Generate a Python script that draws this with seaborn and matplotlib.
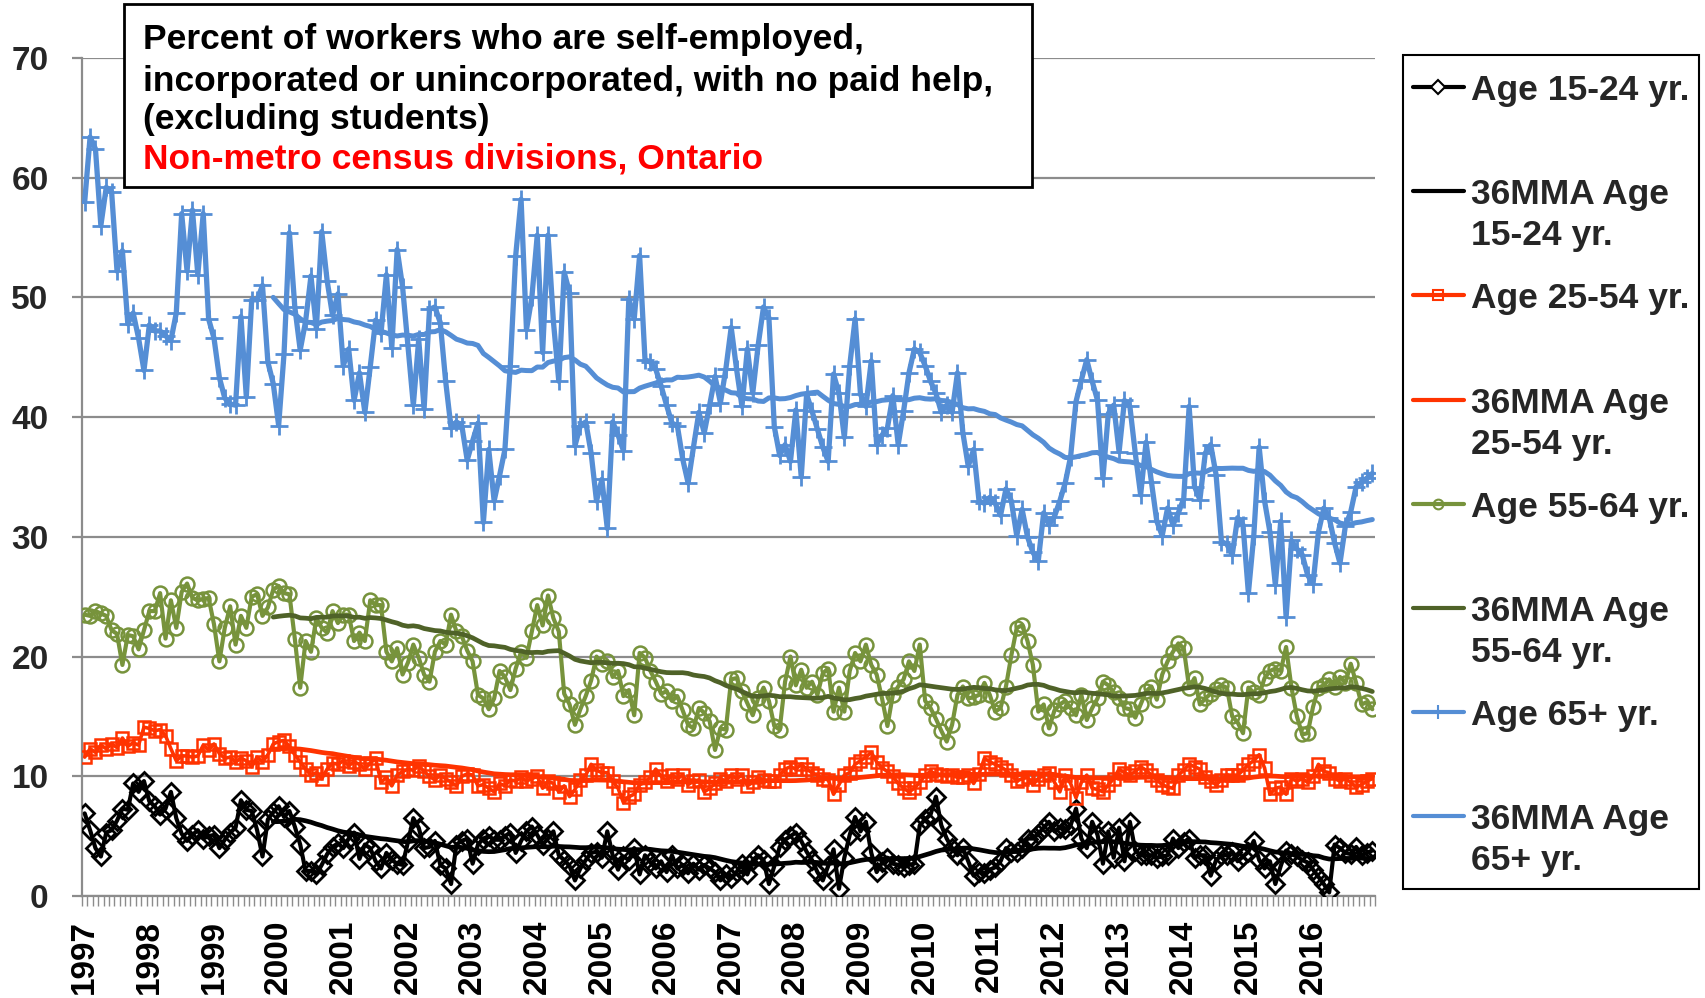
import numpy as np
import pandas as pd
import matplotlib
matplotlib.use("Agg")
import matplotlib.pyplot as plt
import seaborn as sns
from matplotlib.lines import Line2D
from matplotlib.patches import Rectangle

# ---------------- data (monthly, Jan 1997 - Dec 2016) ----------------
years = list(range(1997, 2017))
year_labels = [str(y) for y in years]

age_15_24 = [
    6.9, 5.5, 4.0, 3.3, 5.3, 5.5, 6.3, 7.3, 7.2, 9.4,
    8.7, 9.6, 7.9, 7.5, 6.8, 7.3, 8.7, 6.5, 5.2, 4.6,
    5.1, 5.5, 4.8, 5.0, 5.1, 4.0, 4.7, 5.3, 5.7, 8.0,
    7.2, 7.1, 5.5, 3.3, 6.4, 7.0, 7.5, 6.6, 7.1, 5.8,
    4.3, 2.1, 2.1, 1.8, 2.6, 3.5, 4.1, 4.4, 4.0, 4.8,
    5.3, 3.1, 4.3, 4.0, 2.9, 2.3, 3.6, 3.0, 2.7, 2.6,
    4.5, 6.5, 5.7, 4.0, 4.1, 4.6, 2.6, 2.3, 1.0, 4.3,
    4.6, 4.8, 2.7, 4.3, 4.8, 5.0, 4.7, 4.7, 5.0, 5.3,
    3.6, 4.6, 5.4, 5.8, 5.1, 4.3, 4.8, 5.4, 3.4, 3.0,
    2.5, 1.3, 2.3, 3.0, 3.6, 3.7, 3.2, 5.4, 3.4, 2.2,
    3.3, 3.0, 4.0, 1.8, 3.4, 2.8, 2.3, 2.9, 2.0, 3.4,
    2.3, 2.6, 1.9, 2.7, 2.2, 2.6, 2.3, 2.0, 1.3, 1.8,
    1.5, 2.0, 2.7, 1.8, 3.0, 3.4, 3.0, 1.0, 2.5, 4.1,
    4.7, 5.0, 5.3, 4.6, 3.7, 3.0, 2.0, 1.3, 2.5, 3.9,
    0.6, 3.2, 5.1, 6.6, 5.4, 6.2, 3.6, 2.0, 2.8, 3.2,
    2.7, 2.6, 2.4, 2.6, 2.7, 5.9, 6.4, 6.8, 8.3, 5.9,
    4.8, 4.0, 3.4, 4.0, 2.9, 1.7, 2.0, 1.9, 2.2, 2.4,
    2.9, 4.0, 3.7, 3.7, 4.0, 4.8, 4.8, 5.2, 5.7, 6.2,
    5.4, 5.7, 5.6, 5.9, 7.3, 4.8, 4.0, 6.2, 5.1, 2.7,
    5.4, 3.2, 5.7, 2.9, 6.2, 3.8, 3.4, 3.4, 3.4, 3.2,
    3.3, 3.4, 4.8, 4.0, 4.5, 4.8, 3.2, 3.4, 3.4, 1.7,
    3.0, 3.4, 3.4, 3.7, 2.9, 3.3, 3.7, 4.6, 3.0, 2.3,
    2.9, 1.0, 2.5, 3.8, 3.5, 3.3, 3.0, 2.8, 2.2, 1.6,
    1.0, 0.3, 4.3, 4.0, 3.6, 3.5, 4.1, 3.4, 3.6, 3.8,
]

age_25_54 = [
    11.6, 12.3, 12.0, 12.6, 12.3, 12.7, 12.4, 13.2, 12.5, 12.8,
    12.6, 14.1, 14.0, 13.8, 13.9, 13.4, 12.3, 11.3, 11.7, 11.7,
    11.6, 11.7, 12.6, 12.2, 12.7, 11.9, 11.5, 11.6, 11.2, 11.5,
    11.3, 10.8, 11.6, 11.2, 11.8, 12.7, 12.9, 13.0, 12.5, 11.8,
    11.2, 10.6, 10.1, 10.3, 9.8, 10.6, 11.1, 11.0, 11.3, 10.9,
    11.2, 11.0, 10.6, 11.1, 11.5, 9.5, 9.9, 9.2, 10.1, 10.4,
    10.6, 10.5, 10.9, 10.4, 10.0, 9.7, 10.1, 9.8, 9.5, 9.2,
    10.0, 10.2, 10.1, 9.2, 9.3, 9.0, 8.7, 9.4, 9.2, 9.7,
    9.6, 9.9, 9.6, 9.8, 10.0, 9.0, 9.6, 9.4, 8.7, 9.2,
    8.3, 8.9, 9.7, 10.1, 11.0, 10.5, 10.3, 10.3, 9.6, 9.0,
    7.8, 8.3, 8.5, 9.3, 9.5, 9.9, 10.6, 10.0, 9.6, 10.1,
    9.8, 10.1, 9.3, 9.6, 9.7, 8.7, 9.0, 9.4, 9.8, 9.6,
    10.1, 9.8, 10.1, 9.2, 9.5, 9.9, 9.7, 9.6, 9.6, 10.1,
    10.6, 10.8, 10.6, 11.0, 10.6, 10.3, 10.1, 9.8, 9.7, 8.5,
    9.3, 10.1, 10.3, 11.0, 11.3, 11.6, 12.0, 11.2, 10.7, 10.4,
    10.0, 9.4, 9.0, 8.7, 9.0, 9.5, 10.1, 10.4, 10.2, 10.1,
    10.0, 10.1, 9.9, 9.9, 10.1, 9.4, 10.2, 11.5, 11.2, 11.0,
    10.8, 10.5, 10.1, 9.6, 9.8, 9.9, 9.3, 9.8, 10.1, 10.3,
    9.5, 8.7, 10.1, 9.4, 8.2, 9.5, 10.1, 9.0, 8.9, 8.7,
    9.3, 9.8, 10.6, 10.3, 10.1, 10.4, 10.8, 10.5, 10.1, 9.7,
    9.3, 9.1, 9.0, 10.1, 10.5, 11.0, 10.8, 10.6, 9.9, 9.6,
    9.3, 9.7, 10.1, 10.1, 10.1, 10.5, 11.0, 11.3, 11.8, 10.7,
    8.5, 9.0, 9.1, 8.5, 9.8, 9.6, 9.8, 9.5, 10.0, 11.0,
    10.4, 10.3, 9.8, 9.6, 9.8, 9.5, 9.1, 9.3, 9.6, 9.8,
]

age_55_64 = [
    23.5, 23.4, 23.8, 23.6, 23.4, 22.2, 21.9, 19.3, 21.8, 21.7,
    20.6, 22.2, 23.8, 23.8, 25.3, 21.5, 24.7, 22.4, 25.4, 26.1,
    24.9, 24.7, 24.8, 24.9, 22.7, 19.6, 22.4, 24.2, 21.0, 23.4,
    22.4, 25.0, 25.2, 23.4, 24.1, 25.6, 25.9, 25.3, 25.2, 21.5,
    17.4, 21.3, 20.4, 23.2, 22.4, 22.0, 23.8, 22.8, 23.5, 23.5,
    21.3, 22.0, 21.3, 24.7, 24.3, 24.3, 20.4, 19.6, 20.7, 18.5,
    19.5, 21.0, 19.9, 18.5, 17.9, 20.4, 21.3, 21.0, 23.5, 22.1,
    21.7, 20.5, 19.6, 16.8, 16.5, 15.6, 16.5, 18.8, 18.3, 17.2,
    19.0, 20.4, 19.9, 22.1, 24.3, 22.6, 25.1, 23.2, 22.1, 16.9,
    16.0, 14.3, 15.6, 16.7, 18.0, 20.0, 19.4, 19.6, 18.3, 18.8,
    16.7, 17.2, 15.1, 20.3, 19.9, 18.8, 17.9, 16.9, 17.1, 16.3,
    16.7, 15.5, 14.3, 14.0, 15.7, 15.3, 14.6, 12.2, 14.0, 13.9,
    18.1, 18.2, 17.1, 16.1, 15.1, 16.5, 17.4, 16.3, 14.2, 13.9,
    17.9, 20.0, 17.6, 18.9, 17.4, 17.9, 16.8, 18.6, 19.0, 15.4,
    17.4, 15.4, 18.8, 20.3, 19.6, 21.0, 19.3, 18.5, 16.5, 14.2,
    16.8, 17.5, 18.1, 19.6, 18.8, 21.0, 16.3, 15.7, 14.8, 13.8,
    12.9, 14.3, 16.8, 17.5, 16.5, 16.6, 16.8, 17.8, 16.8, 15.4,
    15.7, 17.5, 20.1, 22.4, 22.6, 21.3, 19.3, 15.4, 16.0, 14.0,
    15.5, 16.0, 16.3, 15.7, 15.1, 16.8, 14.7, 15.7, 16.5, 17.9,
    17.6, 17.0, 16.5, 15.7, 15.6, 14.9, 16.0, 17.1, 17.5, 16.4,
    18.5, 19.6, 20.4, 21.1, 20.7, 17.4, 18.2, 16.0, 16.5, 16.9,
    17.3, 17.6, 17.4, 15.0, 14.5, 13.6, 17.4, 17.0, 16.8, 18.2,
    18.8, 19.0, 18.8, 20.8, 17.4, 15.0, 13.5, 13.6, 15.8, 17.4,
    17.6, 18.1, 17.5, 18.3, 17.8, 19.4, 17.8, 16.0, 16.2, 15.6,
]

age_65_plus = [
    58.0, 63.4, 62.4, 56.0, 59.2, 58.8, 52.2, 53.9, 47.8, 48.7,
    46.6, 43.9, 47.7, 47.2, 47.2, 46.8, 46.4, 48.7, 57.0, 52.2,
    57.3, 51.9, 57.0, 48.2, 46.6, 43.3, 41.6, 41.1, 41.0, 48.4,
    41.7, 49.8, 49.8, 51.0, 44.6, 42.8, 39.3, 45.3, 55.4, 49.2,
    45.6, 48.0, 51.8, 47.4, 55.5, 51.4, 48.5, 50.3, 44.3, 45.7,
    41.4, 43.7, 40.4, 44.2, 48.1, 47.0, 51.9, 45.8, 54.0, 50.9,
    46.0, 41.0, 46.5, 40.7, 49.0, 49.2, 47.9, 43.0, 39.1, 39.6,
    39.3, 36.4, 38.0, 39.5, 31.2, 37.3, 33.0, 35.1, 37.3, 44.3,
    53.5, 58.2, 47.3, 50.0, 55.2, 45.4, 55.2, 48.0, 43.0, 52.1,
    50.4, 37.6, 39.3, 39.6, 37.0, 33.0, 34.8, 30.7, 39.6, 38.5,
    37.2, 49.9, 48.2, 53.5, 44.8, 44.6, 44.0, 42.6, 41.0, 39.5,
    39.3, 36.5, 34.5, 37.5, 40.4, 38.7, 41.0, 43.4, 41.2, 44.0,
    47.5, 44.0, 40.9, 45.7, 42.0, 46.0, 49.2, 48.3, 39.2, 36.8,
    37.7, 36.3, 40.6, 35.0, 41.9, 40.5, 39.0, 37.5, 36.3, 43.6,
    42.0, 38.3, 44.3, 48.2, 41.9, 40.9, 44.7, 37.7, 38.5, 39.1,
    41.8, 37.7, 40.5, 43.7, 45.7, 45.4, 44.3, 43.0, 42.0, 40.4,
    41.0, 40.4, 43.7, 38.7, 35.9, 37.3, 33.0, 32.8, 33.3, 32.8,
    31.8, 34.0, 33.0, 30.1, 32.3, 30.0, 28.7, 28.0, 32.0, 31.0,
    31.7, 33.0, 34.5, 36.7, 41.3, 43.1, 44.8, 43.0, 41.4, 34.9,
    40.3, 41.0, 37.1, 41.4, 40.9, 37.0, 33.5, 37.9, 34.6, 31.3,
    30.1, 32.4, 31.0, 32.0, 33.2, 40.9, 34.2, 33.1, 37.0, 37.7,
    35.2, 29.6, 29.4, 28.5, 31.6, 31.0, 25.3, 30.1, 37.5, 33.0,
    30.4, 26.0, 31.3, 23.3, 29.7, 29.0, 28.5, 26.8, 26.1, 30.4,
    32.4, 31.6, 29.5, 27.8, 30.9, 32.1, 34.2, 34.6, 34.9, 35.3,
]

series_names = ["Age 15-24 yr.", "Age 25-54 yr.", "Age 55-64 yr.", "Age 65+ yr."]
ma_names = ["36MMA Age\n15-24 yr.", "36MMA Age\n25-54 yr.",
            "36MMA Age\n55-64 yr.", "36MMA Age\n65+ yr."]

# ---------------- build frame ----------------
month_idx = np.arange(len(age_15_24))
df = pd.DataFrame({
    "month": month_idx,
    "a": age_15_24, "b": age_25_54, "c": age_55_64, "d": age_65_plus,
})
for col in "abcd":
    df["ma_" + col] = df[col].rolling(36).mean()

# ---------------- style ----------------
sns.set_theme(style="white")
plt.rcParams["font.family"] = ["Liberation Sans", "DejaVu Sans"]
plt.rcParams["font.weight"] = "bold"

W, H = 1706, 998
fig = plt.figure(figsize=(W / 100, H / 100), dpi=100)


def fx(px):
    return px / W


def fy(py):
    return 1 - py / H


ax = fig.add_axes([fx(82), fy(896), fx(1375) - fx(82), fy(58) - fy(896)])

GRID = "#8c8c8c"
specs = [
    # col, color, marker, ms, mfc, mew, lw, ma color, ma lw
    ("a", "#000000", "D", 9, "none", 2.0, 3.0, "#000000", 3.4),
    ("b", "#FF3300", "s", 9, "none", 1.8, 2.6, "#FF3300", 3.4),
    ("c", "#77933C", "o", 10, "none", 1.8, 3.0, "#4F6228", 3.4),
    ("d", "#558ED5", "+", 13, "none", 2.0, 3.8, "#558ED5", 3.6),
]

z = 3
for col, color, mk, ms, mfc, mew, lw, mcol, mlw in specs:
    sns.lineplot(data=df, x="month", y=col, ax=ax, color=color, lw=lw,
                 marker=mk, markersize=ms, markerfacecolor=mfc,
                 markeredgecolor=color, markeredgewidth=mew, zorder=z,
                 legend=False)
    z += 1
    sns.lineplot(data=df, x="month", y="ma_" + col, ax=ax, color=mcol,
                 lw=mlw, zorder=z, legend=False)
    z += 1

ax.set_xlim(-0.5, len(month_idx) - 0.5)
ax.set_ylim(0, 70)
ax.set_xlabel("")
ax.set_ylabel("")
ax.set_yticks(range(0, 71, 10))
ax.set_yticklabels([str(v) for v in range(0, 71, 10)], fontsize=24,
                   fontweight="bold")
ax.yaxis.grid(True, color=GRID, lw=1.6)
ax.xaxis.grid(False)
ax.set_axisbelow(True)

ax.set_xticks(np.arange(0, len(month_idx), 12))
ax.set_xticklabels(year_labels, rotation=90, fontsize=24, fontweight="bold")
ax.set_xticks(np.arange(-0.5, len(month_idx), 1), minor=True)
ax.tick_params(axis="x", which="major", length=0, pad=17, colors="black")
ax.tick_params(axis="x", which="minor", length=7, width=1.0, color=GRID,
               bottom=True)
ax.tick_params(axis="y", which="major", length=7, width=1.6, color=GRID,
               pad=17, left=True)
for s in ["top", "right"]:
    ax.spines[s].set_visible(False)
for s in ["left", "bottom"]:
    ax.spines[s].set_color(GRID)
    ax.spines[s].set_linewidth(1.6)

# ---------------- title box ----------------
fig.add_artist(Rectangle((fx(124), fy(187)), fx(1032) - fx(124),
                         fy(4) - fy(187), transform=fig.transFigure,
                         facecolor="white", edgecolor="black", lw=2,
                         zorder=10))
title_lines = [
    ("Percent of workers who are self-employed,", "black", 36),
    ("incorporated or unincorporated, with no paid help,", "black", 78),
    ("(excluding students)", "black", 116),
    ("Non-metro census divisions, Ontario", "#FF0000", 156),
]
for txt, col, py in title_lines:
    fig.text(fx(143), fy(py), txt, color=col, fontsize=25.5, fontweight="bold",
             va="center_baseline", ha="left", zorder=11)

# ---------------- legend box ----------------
fig.add_artist(Rectangle((fx(1403), fy(889)), fx(1699) - fx(1403),
                         fy(55) - fy(889), transform=fig.transFigure,
                         facecolor="white", edgecolor="black", lw=1.5,
                         zorder=10))
legend_rows = []
for (col, color, mk, ms, mfc, mew, lw, mcol, mlw), nm, mnm in zip(
        specs, series_names, ma_names):
    legend_rows.append((nm, color, mk, mfc, mew, lw))
    legend_rows.append((mnm, mcol, None, None, None, mlw))

y0, dy = 87, 104.2
for k, (label, color, mk, mfc, mew, lw) in enumerate(legend_rows):
    py = y0 + k * dy
    ln = Line2D([fx(1413), fx(1464)], [fy(py), fy(py)],
                transform=fig.transFigure, color=color, lw=3.0,
                zorder=11)
    fig.add_artist(ln)
    if mk is not None:
        mkln = Line2D([fx(1438.5)], [fy(py)], transform=fig.transFigure,
                      marker=mk, markersize=7 if mk != "+" else 10,
                      markerfacecolor="white" if mk == "D" else "none",
                      markeredgecolor=color, markeredgewidth=1.5,
                      linestyle="none", zorder=12)
        fig.add_artist(mkln)
    for j, line in enumerate(label.split("\n")):
        fig.text(fx(1471), fy(py + j * 41), line, fontsize=25.5,
                 fontweight="bold", va="center_baseline", ha="left",
                 zorder=12)

fig.savefig("out.png", dpi=100)
